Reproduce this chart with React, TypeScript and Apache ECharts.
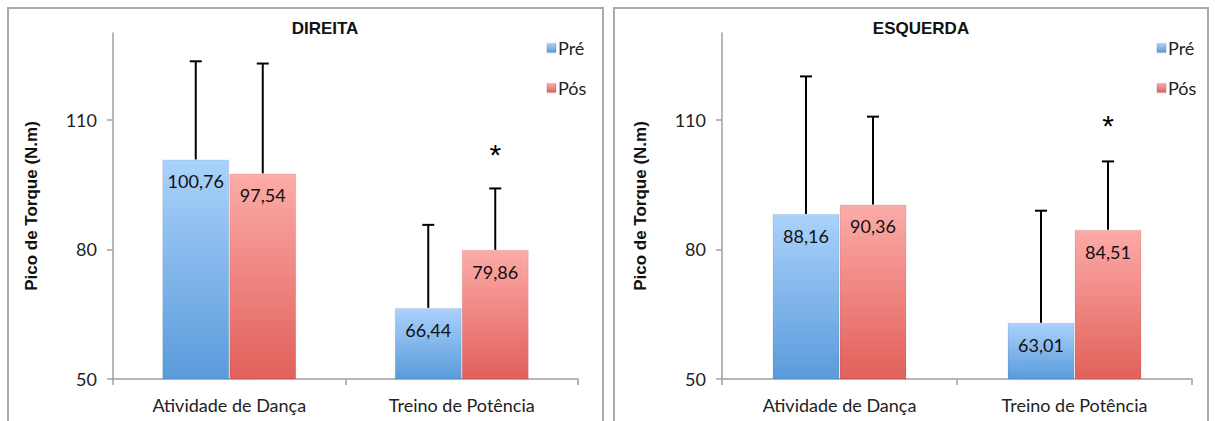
import React, { useEffect, useRef } from "react";
import * as echarts from "echarts";

const categories = ["Atividade de Dança", "Treino de Potência"];
const panelTitles = ["DIREITA", "ESQUERDA"];
const yTicks = [50, 80, 110];

const direitaPre = [100.76, 66.44];
const direitaPreSD = [22.7, 19.2];
const direitaPos = [97.54, 79.86];
const direitaPosSD = [25.4, 14.2];

const esquerdaPre = [88.16, 63.01];
const esquerdaPreSD = [31.8, 25.9];
const esquerdaPos = [90.36, 84.51];
const esquerdaPosSD = [20.3, 15.8];

// asterisk (significance) marks positioned above "Pós" bars
const direitaStar = [null, 102.0];
const esquerdaStar = [null, 108.5];

const BAR_W = 67;
const CAL = "Lato, 'Open Sans', sans-serif";
const ARIAL = "'Liberation Sans', Arial, sans-serif";

const blue = new echarts.graphic.LinearGradient(0, 0, 0, 1, [
  { offset: 0, color: "#aad2fb" },
  { offset: 1, color: "#5a9bdb" },
]);
const red = new echarts.graphic.LinearGradient(0, 0, 0, 1, [
  { offset: 0, color: "#fcaba8" },
  { offset: 1, color: "#e1605a" },
]);

const fmt = (v: number) => v.toFixed(2).replace(".", ",");

function barSeries(name: string, data: number[], idx: number, color: any) {
  return {
    type: "bar",
    name,
    xAxisIndex: idx,
    yAxisIndex: idx,
    data,
    barWidth: BAR_W,
    barGap: "0%",
    itemStyle: { color, borderColor: "rgba(0,0,0,0.08)", borderWidth: 1 },
    label: {
      show: true,
      position: "insideTop",
      distance: 13,
      fontFamily: CAL,
      fontSize: 18,
      color: "#111",
      formatter: (p: any) => fmt(p.value),
    },
    z: 2,
  };
}

function errSeries(means: number[], sds: number[], idx: number, offset: number) {
  return {
    type: "custom",
    xAxisIndex: idx,
    yAxisIndex: idx,
    data: means.map((m, i) => [i, m, sds[i]]),
    z: 3,
    silent: true,
    clip: false,
    renderItem: (params: any, api: any) => {
      const i = api.value(0);
      const m = api.value(1);
      const s = api.value(2);
      const base = api.coord([i, m]);
      const top = api.coord([i, m + s]);
      const x = base[0] + offset;
      const style = { stroke: "#000", lineWidth: 2 };
      return {
        type: "group",
        children: [
          { type: "line", shape: { x1: x, y1: base[1], x2: x, y2: top[1] }, style },
          { type: "line", shape: { x1: x - 6, y1: top[1], x2: x + 6, y2: top[1] }, style },
        ],
      };
    },
  };
}

function starSeries(vals: (number | null)[], idx: number, offset: number) {
  return {
    type: "custom",
    xAxisIndex: idx,
    yAxisIndex: idx,
    data: vals.map((v, i) => (v == null ? null : [i, v])).filter((d) => d) as any,
    z: 3,
    silent: true,
    clip: false,
    renderItem: (params: any, api: any) => {
      const p = api.coord([api.value(0), api.value(1)]);
      return {
        type: "text",
        x: p[0] + offset,
        y: p[1],
        style: {
          text: "*",
          fontSize: 30,
          fontFamily: ARIAL,
          fill: "#000",
          align: "center",
          verticalAlign: "middle",
        },
      };
    },
  };
}

export default function App() {
  const ref = useRef<HTMLDivElement>(null);
  useEffect(() => {
    const chart = echarts.init(ref.current!, null, { renderer: "svg" });
    const grids = [
      { left: 113, top: 33, width: 465, height: 346 },
      { left: 722, top: 33, width: 470, height: 346 },
    ];
    const xAxes = grids.map((_, i) => ({
      type: "category",
      gridIndex: i,
      data: categories,
      axisLine: { lineStyle: { color: "#a0a0a0", width: 1.5 } },
      axisTick: { show: true, length: 6, lineStyle: { color: "#a0a0a0", width: 1.5 } },
      axisLabel: { fontFamily: CAL, fontSize: 18, color: "#222", margin: 17 },
    }));
    const yAxes = grids.map((_, i) => ({
      type: "value",
      gridIndex: i,
      min: 50,
      max: 130,
      splitLine: { show: false },
      axisLine: { show: true, lineStyle: { color: "#a0a0a0", width: 1.5 } },
      axisTick: { show: true, length: 6, customValues: yTicks, lineStyle: { color: "#a0a0a0", width: 1.5 } },
      axisLabel: { customValues: yTicks, fontFamily: CAL, fontSize: 18, color: "#222", margin: 16 },
      name: "Pico de Torque (N.m)",
      nameLocation: "middle",
      nameGap: 73,
      nameTextStyle: { fontFamily: ARIAL, fontWeight: "bold", fontSize: 17, color: "#111" },
    }));
    chart.setOption({
      animation: false,
      backgroundColor: "#fff",
      title: [
        { text: panelTitles[0], left: 320, top: 15, textAlign: "center" },
        { text: panelTitles[1], left: 916, top: 15, textAlign: "center" },
      ].map((t) => ({
        ...t,
        textStyle: { fontFamily: ARIAL, fontWeight: "bold", fontSize: 17, color: "#111" },
      })),
      legend: [541, 1151].map((l) => ({
        left: l,
        top: 34,
        orient: "vertical",
        itemWidth: 9,
        itemHeight: 9,
        itemGap: 22,
        icon: "rect",
        data: ["Pré", "Pós"],
        textStyle: { fontFamily: CAL, fontSize: 18, color: "#222", padding: [0, 0, 0, -3] },
      })),
      grid: grids,
      xAxis: xAxes,
      yAxis: yAxes,
      graphic: [
        { type: "rect", shape: { x: 8, y: 8, width: 595, height: 430 }, style: { fill: "none", stroke: "#aaaaaa", lineWidth: 2 }, z: -1 },
        { type: "rect", shape: { x: 614, y: 8, width: 594, height: 430 }, style: { fill: "none", stroke: "#aaaaaa", lineWidth: 2 }, z: -1 },
      ],
      series: [
        barSeries("Pré", direitaPre, 0, blue),
        barSeries("Pós", direitaPos, 0, red),
        barSeries("Pré", esquerdaPre, 1, blue),
        barSeries("Pós", esquerdaPos, 1, red),
        errSeries(direitaPre, direitaPreSD, 0, -BAR_W / 2),
        errSeries(direitaPos, direitaPosSD, 0, BAR_W / 2),
        errSeries(esquerdaPre, esquerdaPreSD, 1, -BAR_W / 2),
        errSeries(esquerdaPos, esquerdaPosSD, 1, BAR_W / 2),
        starSeries(direitaStar, 0, BAR_W / 2),
        starSeries(esquerdaStar, 1, BAR_W / 2),
      ],
    });
    return () => chart.dispose();
  }, []);
  return (
    <div
      ref={ref}
      style={{ position: "absolute", left: 0, top: 0, width: 1215, height: 421 }}
    />
  );
}
